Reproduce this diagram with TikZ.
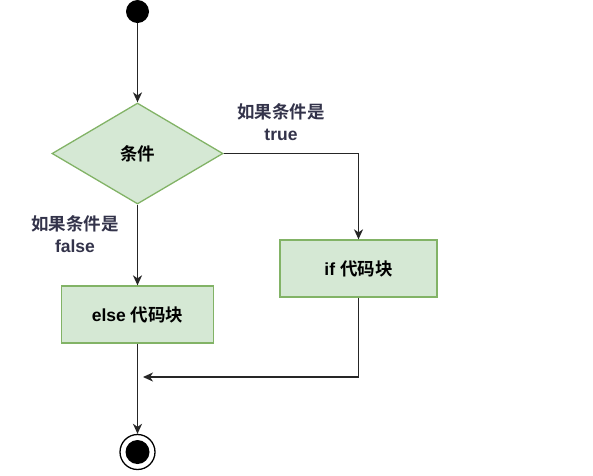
\documentclass[tikz,border=0pt]{standalone}
\usepackage{fontspec}
\setmainfont{Liberation Sans}
\newfontfamily\cjk{Noto Sans CJK SC}[BoldFont={* Bold}]
\usetikzlibrary{shapes.geometric,arrows.meta}
\definecolor{boxfill}{HTML}{D5E8D4}
\definecolor{boxline}{HTML}{82B366}
\definecolor{labeltext}{HTML}{33334A}
\begin{document}
\begin{tikzpicture}[x=1pt,y=-1pt,
  every node/.style={font=\fontsize{17.5}{21}\selectfont\bfseries},
  greenbox/.style={draw=boxline,fill=boxfill,line width=1.3pt,rectangle,inner sep=0pt},
  cond/.style={draw=boxline,fill=boxfill,line width=1.3pt,diamond,inner sep=0pt,minimum width=171pt,minimum height=101pt},
  flow/.style={draw=black!85,line width=1.5pt,-{Stealth[length=10pt,width=9pt,inset=3pt]}},
  lbl/.style={text=labeltext,align=center,font=\fontsize{17.5}{22}\selectfont\bfseries}
]
\useasboundingbox (0,0) rectangle (593,475);
\node[circle,fill=black,minimum size=23pt,inner sep=0pt] (start) at (137.5,11.5) {};
\node[cond] (c) at (137.5,153.5) {\cjk 条件};
\node[greenbox,minimum width=157pt,minimum height=57pt] (ifb) at (358.5,268.5) {if \cjk 代码块};
\node[greenbox,minimum width=152pt,minimum height=57pt] (elseb) at (137.5,314.5) {else \cjk 代码块};
\node[circle,draw=black,line width=1.3pt,minimum size=35pt,inner sep=0pt] (end) at (137.5,452) {};
\node[circle,fill=black,minimum size=24pt,inner sep=0pt] (endin) at (end.center) {};
\node[lbl] (tl) at (281,122) {\cjk 如果条件是\\true};
\node[lbl] (fl) at (75,234) {\cjk 如果条件是\\false};
\coordinate (turn) at (358.5,153.5);
\coordinate (down) at (358.5,377);
\coordinate (merge) at (143,377);
\draw[flow] (start) -- (c.north);
\draw[flow] (c.east) -- (turn) -- (ifb.north);
\draw[flow] (c.south) -- (elseb.north);
\draw[flow] (ifb.south) -- (down) -- (merge);
\draw[flow] (elseb.south) -- (end.north);
\end{tikzpicture}
\end{document}
